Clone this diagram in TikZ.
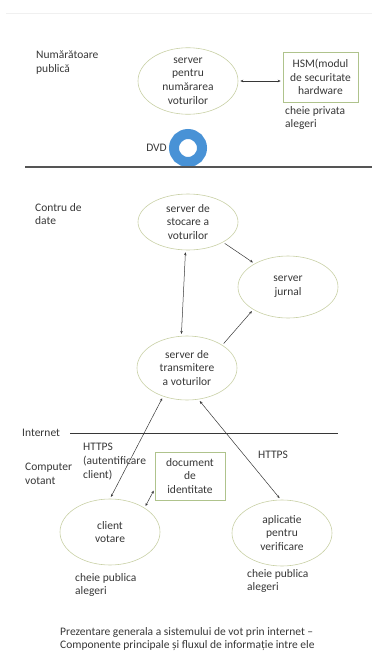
\documentclass[tikz,border=0pt]{standalone}
\usepackage{fontspec}
\setmainfont{Carlito}
\usetikzlibrary{shapes.geometric,arrows.meta}
\definecolor{edgegreen}{RGB}{200,208,165}
\definecolor{boxgreen}{RGB}{175,195,140}
\definecolor{ink}{RGB}{55,55,55}
\definecolor{dvdblue}{RGB}{72,146,214}
\begin{document}
\begin{tikzpicture}[x=1pt,y=-1pt,
  every node/.style={font=\fontsize{11.5}{13.8}\selectfont,text=ink},
  srv/.style={ellipse,draw=edgegreen,line width=0.6pt,align=center,inner sep=0pt},
  docbox/.style={rectangle,draw=boxgreen,line width=0.6pt,align=center,inner sep=0pt},
  lbl/.style={anchor=north west,align=left,inner sep=0pt},
  link/.style={draw=ink,line width=0.5pt,{Stealth[length=3pt,width=2.5pt]}-{Stealth[length=3pt,width=2.5pt]},shorten <=2pt,shorten >=2pt},
  oneway/.style={draw=ink,line width=0.5pt,-{Stealth[length=3pt,width=2.5pt]},shorten <=2pt,shorten >=2pt}]
\useasboundingbox (0,0) rectangle (372,656);
\draw[gray!12,line width=0.8pt] (6,13) -- (372,13);
% numaratoare publica
\node[lbl] (numlbl) at (36,51) {Numărătoare\\publică};
\node[srv,minimum width=100pt,minimum height=58pt] (cnt) at (188,81) {server\\pentru\\numărarea\\voturilor};
\node[docbox,minimum width=75pt,minimum height=50pt] (hsm) at (320.5,77) {HSM(modul\\de securitate\\hardware};
\node[lbl] (privkey) at (285,106) {cheie privata\\alegeri};
\draw[link] (cnt.east) -- (cnt.east -| hsm.west);
\coordinate (disc) at (188,148);
\draw[dvdblue,line width=10pt] (disc) circle (14pt);
\node[anchor=east,inner sep=0pt] (dvdlbl) at (167,148) {DVD};
\draw[ink!85,line width=1.4pt] (25,167) -- (372,167);
% centru de date
\node[lbl] (dclbl) at (35,203) {Contru de\\date};
\node[srv,minimum width=100pt,minimum height=56pt] (store) at (188,222) {server de\\stocare a\\voturilor};
\node[srv,minimum width=100pt,minimum height=62pt] (journal) at (288,287) {server\\jurnal};
\node[srv,minimum width=100pt,minimum height=64pt] (relay) at (187,368) {server de\\transmitere\\a voturilor};
\draw[link] (store.265) -- (relay.100);
\draw[oneway] (store.-30) -- (journal.145);
\draw[oneway] (relay.33) -- (journal.213);
% internet
\node[anchor=west,inner sep=0pt] (netlbl) at (22,433) {Internet};
\draw[ink,line width=0.5pt] (70,433) -- (338,433);
\node[lbl] (authlbl) at (83,443) {HTTPS\\(autentificare\\client)};
\node[lbl] (pclbl) at (25,463) {Computer\\votant};
\node[anchor=west,inner sep=0pt] (httpslbl) at (258,455) {HTTPS};
\node[docbox,minimum width=70pt,minimum height=48pt] (idcard) at (190,476) {document\\de\\identitate};
\node[srv,minimum width=100pt,minimum height=66pt] (client) at (110,532) {client\\votare};
\node[srv,minimum width=100pt,minimum height=66pt] (verify) at (282,533) {aplicatie\\pentru\\verificare};
\node[lbl] (pubkeya) at (75,573) {cheie publica\\alegeri};
\node[lbl] (pubkeyb) at (247,569) {cheie publica\\alegeri};
\draw[link] (client.90) -- (relay.230);
\draw[link] (relay.290) -- (verify.92);
\draw[link] (client.35) -- (idcard.200);
% legenda
\node[lbl] (caption) at (60,627) {Prezentare generala a sistemului de vot prin internet –\\Componente principale și fluxul de informație intre ele};
\end{tikzpicture}
\end{document}
